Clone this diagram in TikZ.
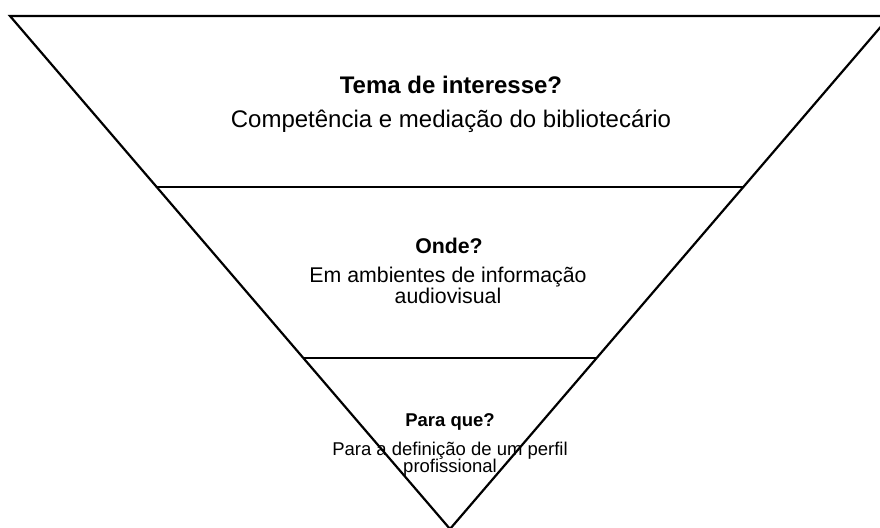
\documentclass[tikz,border=0pt]{standalone}
\usepackage{fontspec}
\setmainfont{Liberation Sans}
\usetikzlibrary{calc}
\tikzset{
  edge/.style={draw=black, line width=2.2pt, line join=miter},
  lbl/.style={anchor=base, inner sep=0pt, text=black},
  big/.style={font=\fontsize{24}{28}\selectfont},
  mid/.style={font=\fontsize{21.3}{24}\selectfont},
  small/.style={font=\fontsize{18.5}{21}\selectfont},
}
\begin{document}
\begin{tikzpicture}[x=1pt,y=-1pt]
\useasboundingbox (0,0) rectangle (880,527);
\clip (0,0) rectangle (880,527);
\coordinate (TL) at (10,16);
\coordinate (TR) at (890,16);
\coordinate (A) at (450,529);
\coordinate (L1) at ($(TL)!0.3333!(A)$);
\coordinate (R1) at ($(TR)!0.3333!(A)$);
\coordinate (L2) at ($(TL)!0.6667!(A)$);
\coordinate (R2) at ($(TR)!0.6667!(A)$);
\draw[edge] (TL) -- (TR) -- (A) -- cycle;
\draw[edge] (L1) -- (R1);
\draw[edge] (L2) -- (R2);
\node[lbl,big] (t1) at (451,93) {\bfseries Tema de interesse?};
\node[lbl,big] (t2) at (451,127) {Competência e mediação do bibliotecário};
\node[lbl,mid] (m1) at (449,253) {\bfseries Onde?};
\node[lbl,mid] (m2) at (448,282) {Em ambientes de informação};
\node[lbl,mid] (m3) at (448,303) {audiovisual};
\node[lbl,small] (b1) at (450,426) {\bfseries Para que?};
\node[lbl,small] (b2) at (450,455) {Para a definição de um perfil};
\node[lbl,small] (b3) at (450,472) {profissional};
\end{tikzpicture}
\end{document}
